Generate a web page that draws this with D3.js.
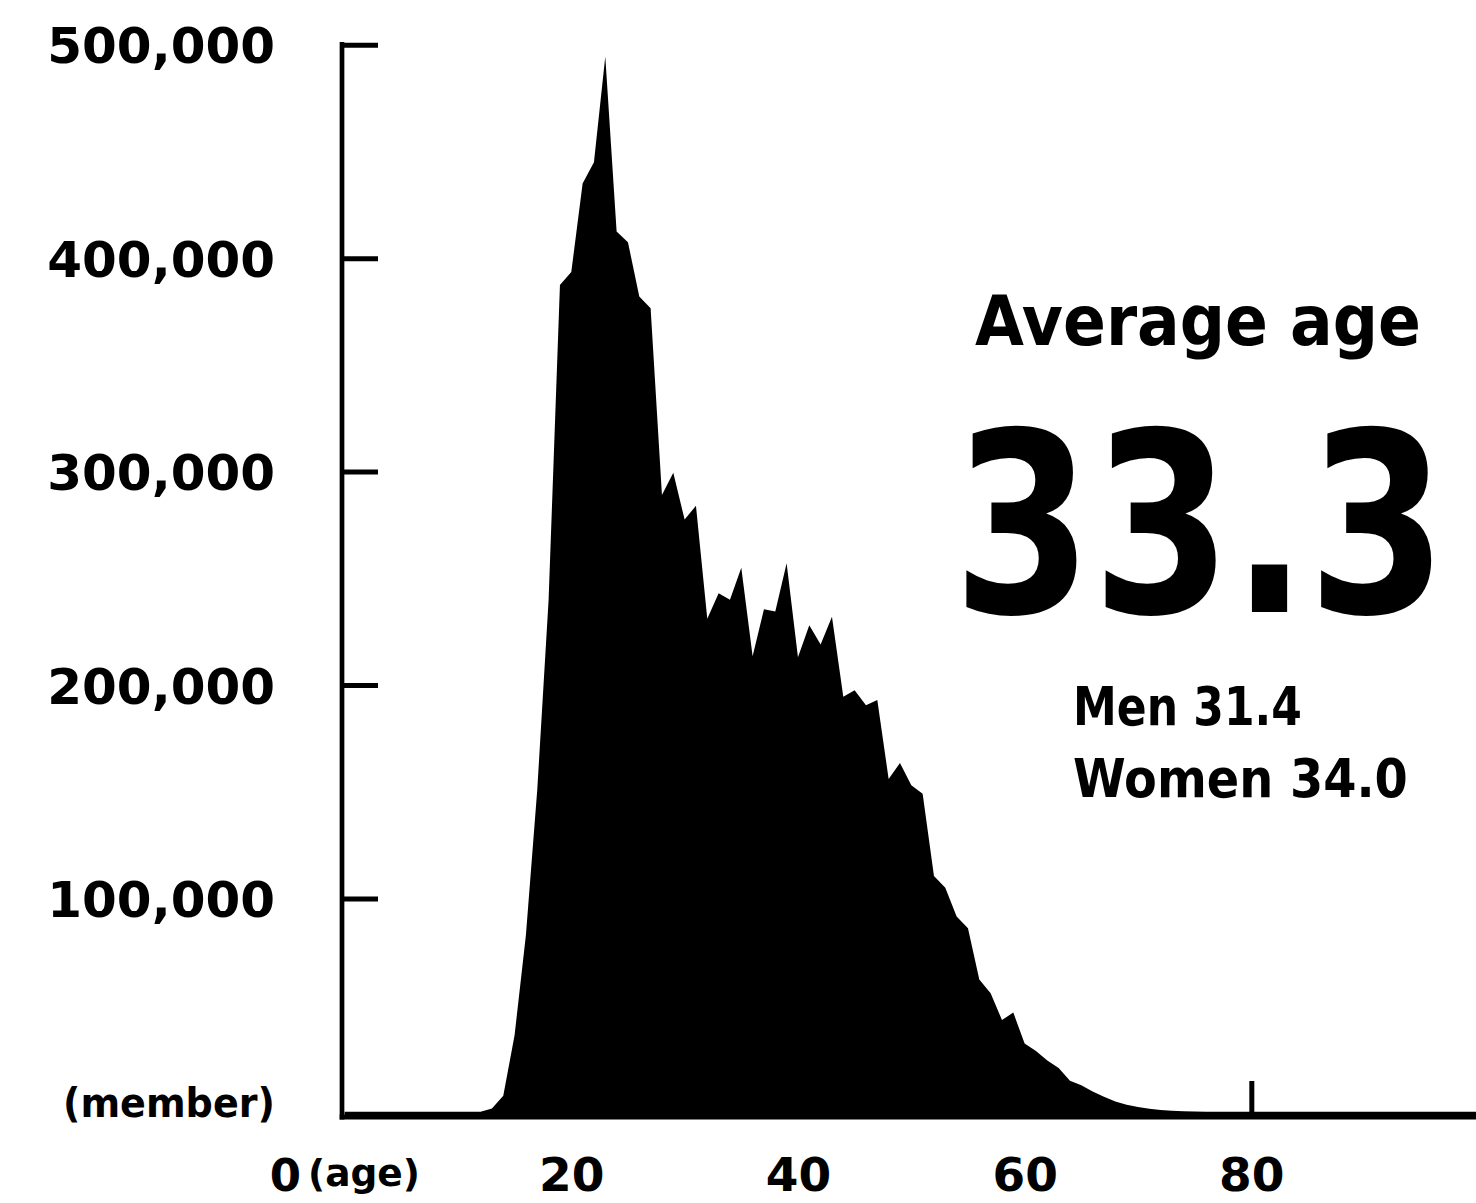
<!DOCTYPE html>
<html>
<head>
<meta charset="utf-8">
<script src="https://cdn.jsdelivr.net/npm/d3@7"></script>
<style>
  html, body { margin: 0; padding: 0; background: #fff; }
  svg { display: block; }
  text { font-family: "DejaVu Sans", sans-serif; font-weight: bold; fill: #000; }
</style>
</head>
<body>
<script>
// ---- data ----
const ages = d3.range(0, 101);
const members = [
  0,0,0,0,0,0,0,0,0,0,            // 0-9
  0,0,0,1500,7500,36000,83000,151000,240000,387500, // 10-19
  393500,435000,445000,494500,412500,407500,382000,376500,289000,299500, // 20-29
  277500,284000,231000,243000,240000,255000,213500,235500,234500,257000, // 30-39
  213000,228000,219000,232000,194500,197500,190500,193000,156000,163500, // 40-49
  153000,149000,110500,105000,91500,86000,62000,55500,43000,46500,       // 50-59
  32000,28500,24000,20500,14500,12500,9500,7000,4800,3300,               // 60-69
  2200,1400,800,450,250,120,60,0,0,0,                                    // 70-79
  0,0,0,0,0,0,0,0,0,0,0,0,0,0,0,0,0,0,0,0,0                              // 80-100
];
const yTickValues = [100000, 200000, 300000, 400000, 500000];
const yTickLabels = ["100,000", "200,000", "300,000", "400,000", "500,000"];
const xTickValues = [20, 40, 60, 80];
const xTickLabels = ["20", "40", "60", "80"];
const titleText = "Average age";
const bigValue = "33.3";
const subLines = ["Men 31.4", "Women 34.0"];
const yUnit = "(member)";
const xZero = "0";
const xUnit = "(age)";

// ---- layout ----
const W = 1476, H = 1203;
const svg = d3.select("body").append("svg").attr("width", W).attr("height", H);

const x = d3.scaleLinear().domain([0, 100]).range([344.6, 1478]);
const y = d3.scaleLinear().domain([0, 500000]).range([1111.8, 44.8]);
const baseY = 1117;

// area
const area = d3.area()
  .x((d, i) => x(ages[i]))
  .y0(baseY - 1)
  .y1(d => y(d))
  .curve(d3.curveLinear);

svg.append("path")
  .datum(members)
  .attr("d", area)
  .attr("fill", "#000");

// y axis
const yAxis = d3.axisLeft(y)
  .tickValues(yTickValues)
  .tickFormat((d, i) => yTickLabels[i])
  .tickSizeInner(-36)
  .tickSizeOuter(0)
  .tickPadding(67);

const gy = svg.append("g").attr("transform", "translate(342,0)").call(yAxis);
gy.select(".domain").remove();
gy.selectAll(".tick line").attr("stroke", "#000").attr("stroke-width", 5);
gy.selectAll(".tick text")
  .attr("font-size", 50)
  .attr("font-family", "DejaVu Sans")
  .attr("font-weight", "bold")
  .attr("dy", "0.36em")
  .attr("fill", "#000");

// x axis
const xAxis = d3.axisBottom(x)
  .tickValues(xTickValues)
  .tickFormat((d, i) => xTickLabels[i])
  .tickSizeInner(-36)
  .tickSizeOuter(0)
  .tickPadding(40);

const gx = svg.append("g").attr("transform", `translate(0,${baseY})`).call(xAxis);
gx.select(".domain").remove();
gx.selectAll(".tick line").attr("stroke", "#000").attr("stroke-width", 5);
gx.selectAll(".tick text")
  .attr("font-size", 47)
  .attr("font-family", "DejaVu Sans")
  .attr("font-weight", "bold")
  .attr("dy", "0.72em")
  .attr("fill", "#000");

// axis lines
svg.append("line")
  .attr("x1", 342).attr("x2", 342)
  .attr("y1", 42).attr("y2", 1119.5)
  .attr("stroke", "#000").attr("stroke-width", 4.7);
svg.append("line")
  .attr("x1", 339.7).attr("x2", W)
  .attr("y1", baseY).attr("y2", baseY)
  .attr("stroke", "#000").attr("stroke-width", 5);

// helper: text fitted to a width by horizontal scaling
function fitted(txt, px, py, size, width) {
  const g = svg.append("g");
  const t = g.append("text").attr("x", 0).attr("y", 0).attr("font-size", size).text(txt);
  const natural = t.node().getComputedTextLength() || width;
  g.attr("transform", `translate(${px},${py}) scale(${width / natural},1)`);
  return t;
}

// unit labels
fitted(yUnit, 63, 1117, 40, 212);

svg.append("text")
  .attr("x", 301).attr("y", 1191)
  .attr("text-anchor", "end")
  .attr("font-size", 45)
  .text(xZero);

fitted(xUnit, 308, 1186, 38, 112);

// annotation
fitted(titleText, 975, 345, 70, 446);
fitted(bigValue, 953, 612, 252, 494);
fitted(subLines[0], 1073, 725, 54, 229);
fitted(subLines[1], 1073, 797, 54, 335);
</script>
</body>
</html>
